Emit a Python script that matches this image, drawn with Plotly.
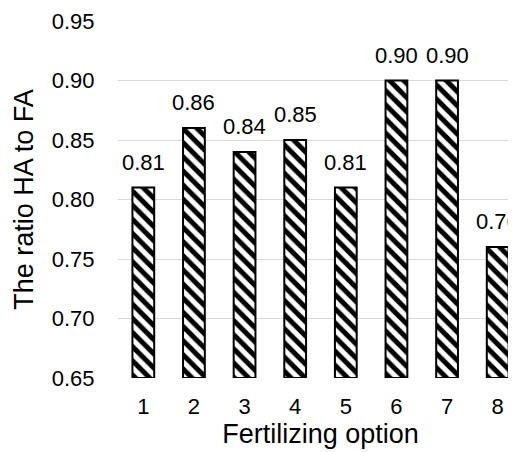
import plotly.graph_objects as go

options = ["1", "2", "3", "4", "5", "6", "7", "8"]
ratio = [0.81, 0.86, 0.84, 0.85, 0.81, 0.90, 0.90, 0.76]
y_ticks = [0.65, 0.70, 0.75, 0.80, 0.85, 0.90, 0.95]
y_min = 0.65

FONT = "Liberation Sans, Arial, sans-serif"
NUM = 22
TITLE = 27
xs = list(range(1, len(options) + 1))

fig = go.Figure()
fig.add_trace(go.Bar(
    x=xs,
    y=[v - y_min for v in ratio],
    base=[y_min] * len(ratio),
    width=0.43,
    marker=dict(
        color="white",
        line=dict(color="black", width=2),
        pattern=dict(shape="\\", fgcolor="black", bgcolor="white", size=10,
                     solidity=0.5, fgopacity=1),
    ),
    hoverinfo="skip",
))

for x, v in zip(xs, ratio):
    fig.add_annotation(x=x, y=v, text=f"{v:.2f}", showarrow=False,
                       yanchor="bottom", yshift=11,
                       font=dict(family=FONT, size=NUM, color="black"))

fig.update_layout(
    width=516, height=452,
    margin=dict(l=110, r=1, t=13, b=82, pad=0),
    plot_bgcolor="white", paper_bgcolor="white",
    showlegend=False,
    font=dict(family=FONT, size=NUM, color="black"),
    xaxis=dict(
        range=[0.5, 8.5],
        tickmode="array", tickvals=xs, ticktext=options,
        showgrid=False, zeroline=False, showline=False,
        ticks="outside", ticklen=9, tickcolor="rgba(0,0,0,0)",
        tickfont=dict(family=FONT, size=NUM, color="black"),
        title=dict(text="Fertilizing option", font=dict(family=FONT, size=TITLE, color="black"), standoff=5),
    ),
    yaxis=dict(
        range=[0.65, 0.95],
        tickmode="array", tickvals=y_ticks, ticktext=[f"{t:.2f}" for t in y_ticks],
        showgrid=True, gridcolor="#d9d9d9", gridwidth=1,
        zeroline=False, showline=False,
        ticks="outside", ticklen=18, tickcolor="rgba(0,0,0,0)",
        tickfont=dict(family=FONT, size=NUM, color="black"),
        title=dict(text="The ratio HA to FA", font=dict(family=FONT, size=TITLE, color="black"), standoff=10),
    ),
)

fig.write_html("out.html")
